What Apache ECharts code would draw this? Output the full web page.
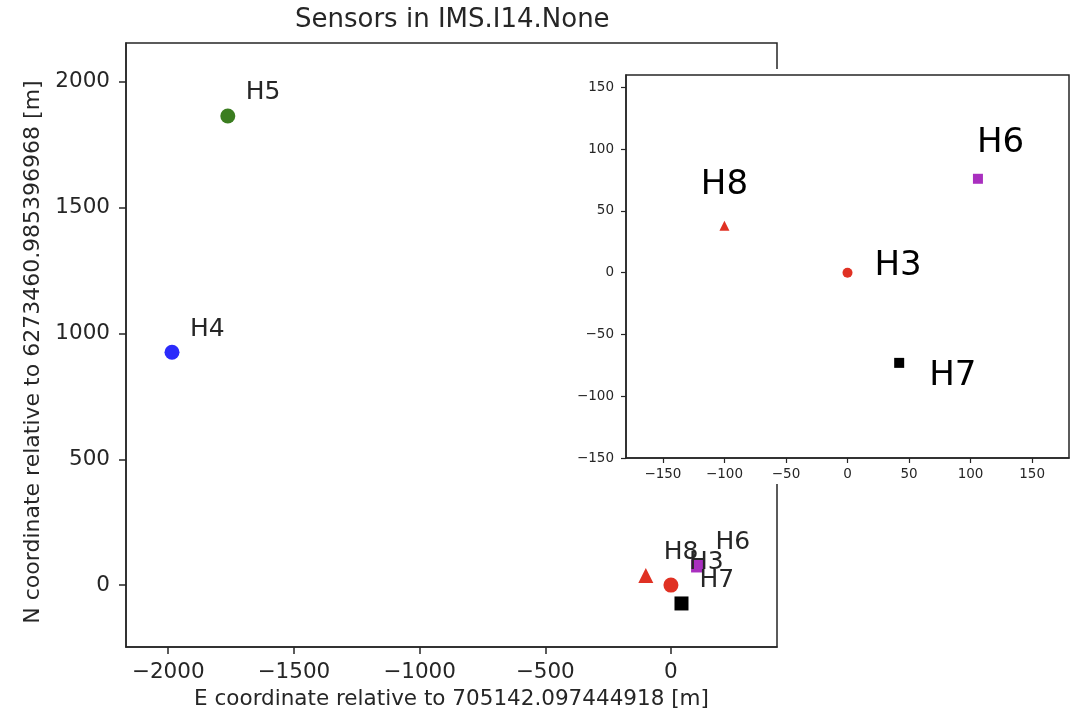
<!DOCTYPE html>
<html>
<head>
<meta charset="utf-8">
<title>Sensors in IMS.I14.None</title>
<script src="https://cdn.jsdelivr.net/npm/echarts@6/dist/echarts.min.js"></script>
<style>
  html, body { margin: 0; padding: 0; background: #fff; }
  #chart { width: 1086px; height: 718px; }
</style>
</head>
<body>
<div id="chart"></div>
<script>
// sensor positions relative to the reference station [m]
const sensorNames = ['H3', 'H4', 'H5', 'H6', 'H7', 'H8']
const eastOffset = [0, -1985, -1763, 106, 42, -100]
const northOffset = [0, 925, 1864, 76, -73, 38]

// sensors shown in the zoomed inset
const insetNames = ['H3', 'H6', 'H7', 'H8']

// tick labels
const mainXTicks = [-2000, -1500, -1000, -500, 0]
const mainYTicks = [0, 500, 1000, 1500, 2000]
const insetXTicks = [-150, -100, -50, 0, 50, 100, 150]
const insetYTicks = [-150, -100, -50, 0, 50, 100, 150]

const markerShape = { H3: 'circle', H4: 'circle', H5: 'circle', H6: 'rect', H7: 'rect', H8: 'triangle' }
const markerColor = { H3: '#e03123', H4: '#2b2bfb', H5: '#3b7d20', H6: '#a92fbf', H7: '#000000', H8: '#e03123' }
const mainSize = { H3: 15, H4: 15, H5: 15, H6: 13, H7: 14, H8: 15 }
const insetSize = { H3: 10, H6: 10, H7: 10, H8: 10 }
const insetLabel = {
    H3: { align: 'left', offset: [27, -7] },
    H6: { align: 'left', offset: [-1, -36] },
    H7: { align: 'left', offset: [30, 13] },
    H8: { align: 'center', offset: [0, -41] }
}

const minus = v => String(v).replace('-', '\u2212')
const ink = '#262626'

let mainData = sensorNames.map((name, i) => ({
    name: name,
    value: [eastOffset[i], northOffset[i]],
    symbol: markerShape[name],
    symbolSize: mainSize[name],
    itemStyle: { color: markerColor[name], opacity: 1 }
}))

let insetData = insetNames.map(name => {
    let i = sensorNames.indexOf(name)
    return {
        name: name,
        value: [eastOffset[i], northOffset[i]],
        symbol: markerShape[name],
        symbolSize: insetSize[name],
        itemStyle: { color: markerColor[name], opacity: 1 },
        label: { align: insetLabel[name].align, offset: insetLabel[name].offset }
    }
})

const axisLine = { show: true, onZero: false, lineStyle: { color: ink, width: 1.5 } }

const option = {
    animation: false,
    backgroundColor: '#fff',
    textStyle: { fontFamily: 'DejaVu Sans' },
    title: {
        text: 'Sensors in IMS.I14.None',
        left: 295,
        top: 7,
        padding: 0,
        textStyle: { fontSize: 26, fontWeight: 'normal', color: ink, fontFamily: 'DejaVu Sans' }
    },
    grid: [{
        left: 126, top: 43, width: 651, height: 604,
        show: true, borderColor: ink, borderWidth: 1.5, backgroundColor: '#fff'
    }, {
        left: 626, top: 75, width: 443, height: 383,
        show: true, borderColor: ink, borderWidth: 1.5, backgroundColor: '#fff', z: 4
    }],
    graphic: [{
        type: 'rect',
        left: 566, top: 69,
        shape: { width: 520, height: 415 },
        style: { fill: '#fff' },
        z: 3
    }],
    xAxis: [{
        gridIndex: 0, type: 'value', min: -2168, max: 422,
        name: 'E coordinate relative to 705142.097444918 [m]',
        nameLocation: 'middle', nameGap: 41,
        nameTextStyle: { fontSize: 21.5, color: ink },
        axisLine: axisLine,
        axisTick: { show: true, length: 7, customValues: mainXTicks, lineStyle: { color: ink, width: 1.5 } },
        axisLabel: { customValues: mainXTicks, fontSize: 21.5, color: ink, margin: 14, formatter: minus },
        splitLine: { show: false }
    }, {
        gridIndex: 1, type: 'value', min: -180, max: 180, z: 5,
        axisLine: axisLine,
        axisTick: { show: true, length: 5, customValues: insetXTicks, lineStyle: { color: ink, width: 1.2 } },
        axisLabel: { customValues: insetXTicks, fontSize: 13.5, color: ink, margin: 9, formatter: minus },
        splitLine: { show: false }
    }],
    yAxis: [{
        gridIndex: 0, type: 'value', min: -246, max: 2154,
        name: 'N coordinate relative to 6273460.985396968 [m]',
        nameLocation: 'middle', nameGap: 82,
        nameTextStyle: { fontSize: 22, color: ink, padding: [0, 14, 0, 0] },
        axisLine: axisLine,
        axisTick: { show: true, length: 7, customValues: mainYTicks, lineStyle: { color: ink, width: 1.5 } },
        axisLabel: { customValues: mainYTicks, fontSize: 21.5, color: ink, margin: 16, formatter: minus },
        splitLine: { show: false }
    }, {
        gridIndex: 1, type: 'value', min: -150, max: 160, z: 5,
        axisLine: axisLine,
        axisTick: { show: true, length: 5, customValues: insetYTicks, lineStyle: { color: ink, width: 1.2 } },
        axisLabel: { customValues: insetYTicks, fontSize: 13.5, color: ink, margin: 12, formatter: minus },
        splitLine: { show: false }
    }],
    series: [{
        name: 'sensors',
        type: 'scatter',
        xAxisIndex: 0, yAxisIndex: 0,
        data: mainData,
        label: {
            show: true,
            formatter: '{b}',
            position: 'inside',
            align: 'left',
            verticalAlign: 'middle',
            offset: [18, -23],
            fontSize: 25,
            color: ink
        },
        emphasis: { disabled: true }
    }, {
        name: 'inset',
        type: 'scatter',
        xAxisIndex: 1, yAxisIndex: 1,
        z: 6,
        data: insetData,
        label: {
            show: true,
            formatter: '{b}',
            position: 'inside',
            verticalAlign: 'middle',
            fontSize: 34,
            color: '#000'
        },
        emphasis: { disabled: true }
    }]
}

let chart = echarts.init(document.getElementById('chart'))
chart.setOption(option)
</script>
</body>
</html>
